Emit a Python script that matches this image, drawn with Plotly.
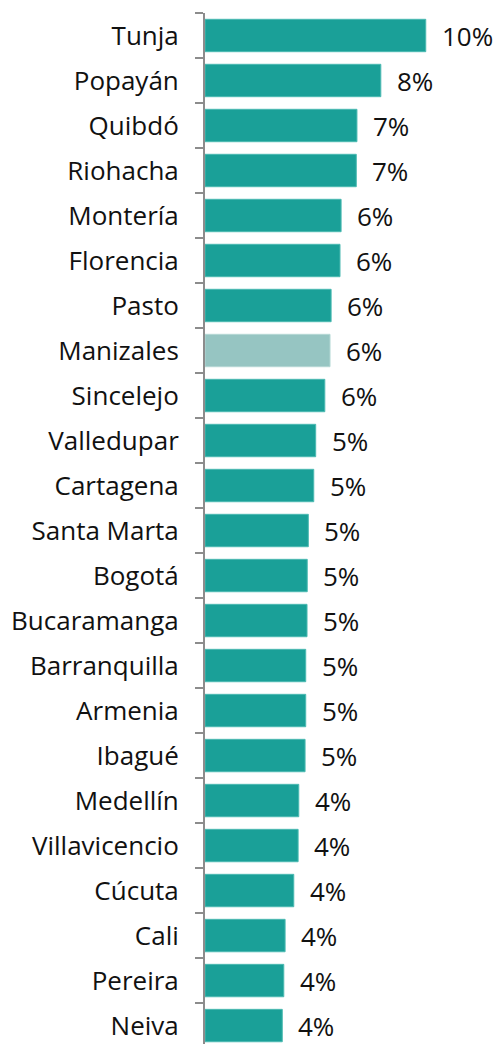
import plotly.graph_objects as go

cities = ["Tunja", "Popayán", "Quibdó", "Riohacha", "Montería", "Florencia", "Pasto",
          "Manizales", "Sincelejo", "Valledupar", "Cartagena", "Santa Marta", "Bogotá",
          "Bucaramanga", "Barranquilla", "Armenia", "Ibagué", "Medellín", "Villavicencio",
          "Cúcuta", "Cali", "Pereira", "Neiva"]
values = [10.17, 8.10, 7.00, 6.97, 6.27, 6.22, 5.81, 5.76, 5.52, 5.10, 5.01, 4.76, 4.71,
          4.70, 4.64, 4.64, 4.61, 4.32, 4.29, 4.09, 3.69, 3.63, 3.56]
highlight = "Manizales"

BASE = "#1aa098"
LIGHT = "#96c5c2"
colors = [LIGHT if c == highlight else BASE for c in cities]
line_colors = ["#b5d8d5" if c == highlight else "#4cbab2" for c in cities]

FONT = dict(family="Open Sans", size=26, color="#111111")

fig = go.Figure(go.Bar(
    x=values, y=cities, orientation="h",
    marker=dict(color=colors, line=dict(color=line_colors, width=1)),
    width=0.72, hoverinfo="skip",
))

for c, v in zip(cities, values):
    fig.add_annotation(x=v, y=c, text=f"{v:.0f}%", showarrow=False,
                       xanchor="left", yanchor="middle", xshift=14,
                       font=FONT)

fig.update_layout(
    width=495, height=1044,
    margin=dict(l=205, r=0, t=13, b=0, autoexpand=False),
    paper_bgcolor="white", plot_bgcolor="white",
    showlegend=False,
    font=FONT,
    xaxis=dict(range=[0, 13.36], visible=False, fixedrange=True, automargin=False),
    yaxis=dict(
        type="category", categoryorder="array", categoryarray=cities,
        range=[22.41, -0.5], autorange=False, automargin=False, fixedrange=True,
        showline=True, linecolor="#8c8c8c", linewidth=2,
        ticks="outside", tickson="boundaries", ticklen=8, tickwidth=2, tickcolor="#8c8c8c",
        showgrid=False, zeroline=False, ticklabelstandoff=19,
        tickfont=FONT,
    ),
)

fig.write_html("out.html",
               config={"displayModeBar": False, "staticPlot": True},
               post_script="document.body.style.margin='0';document.body.style.overflow='hidden';")
